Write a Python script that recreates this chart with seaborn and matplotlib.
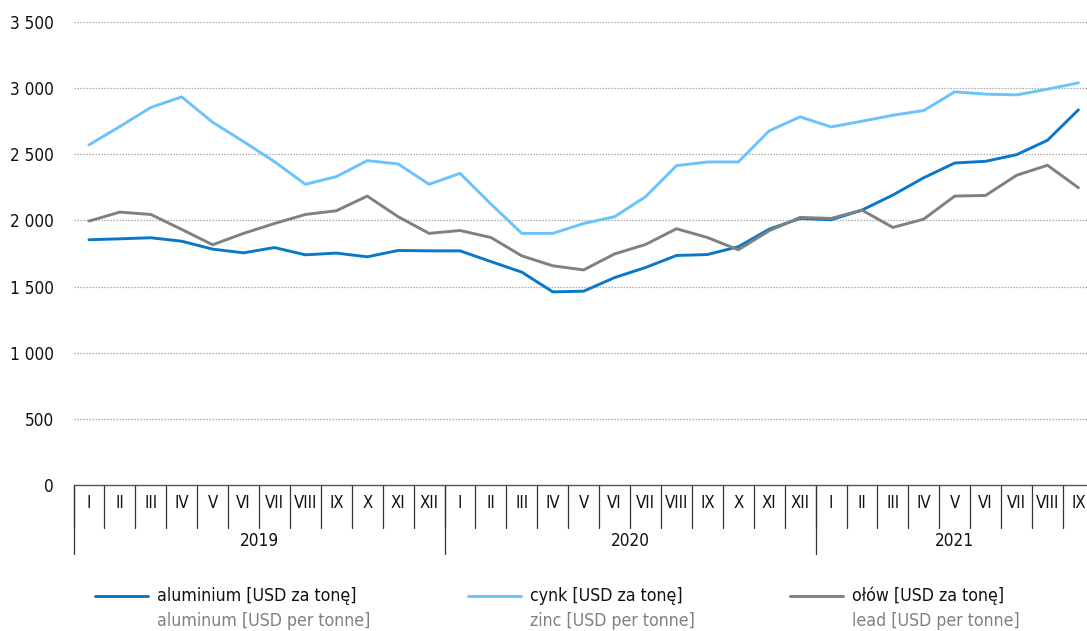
import matplotlib
matplotlib.use("Agg")
import matplotlib.pyplot as plt
from matplotlib.lines import Line2D
import matplotlib.transforms as mtransforms
import numpy as np
import pandas as pd
import seaborn as sns

# Monthly metal prices, 2019 I - 2021 IX
years = ["2019", "2020", "2021"]
months_per_year = [12, 12, 9]
month_names = ["I", "II", "III", "IV", "V", "VI", "VII", "VIII", "IX", "X", "XI", "XII"]

aluminium = [1854, 1861, 1869, 1843, 1783, 1755, 1795, 1740, 1753, 1725, 1773, 1770,
             1770, 1689, 1609, 1460, 1465, 1568, 1644, 1735, 1742, 1801, 1934, 2015,
             2005, 2078, 2192, 2323, 2434, 2447, 2497, 2606, 2836]
zinc = [2571, 2710, 2854, 2934, 2742, 2596, 2444, 2273, 2331, 2452, 2427, 2273,
        2356, 2124, 1902, 1902, 1977, 2028, 2179, 2414, 2442, 2442, 2677, 2783,
        2707, 2750, 2795, 2831, 2972, 2955, 2949, 2992, 3040]
lead = [1995, 2063, 2045, 1932, 1816, 1902, 1977, 2045, 2073, 2184, 2028, 1902,
        1924, 1871, 1732, 1657, 1626, 1747, 1818, 1937, 1871, 1778, 1922, 2023,
        2015, 2078, 1947, 2010, 2184, 2189, 2341, 2417, 2247]

series_pl = ["aluminium [USD za tonę]", "cynk [USD za tonę]", "ołów [USD za tonę]"]
series_en = ["aluminum [USD per tonne]", "zinc [USD per tonne]", "lead [USD per tonne]"]
colors = ["#0a78c8", "#6cc2fb", "#808080"]

month_labels = [m for n in months_per_year for m in month_names[:n]]
n = len(month_labels)

df = pd.DataFrame({
    "idx": np.tile(np.arange(n), 3),
    "value": aluminium + zinc + lead,
    "series": np.repeat(series_pl, n),
})

sns.set_theme(style="white")
plt.rcParams["font.family"] = ["DejaVu Sans"]
plt.rcParams["font.stretch"] = "condensed"
plt.rcParams["font.size"] = 12

W, H = 1087, 631
fig = plt.figure(figsize=(W / 100, H / 100), dpi=100)
cell = 30.92
left_px, top_px, bottom_px = 73.5, 22, 485
right_px = left_px + n * cell
ax = fig.add_axes([left_px / W, 1 - bottom_px / H,
                   (right_px - left_px) / W, (bottom_px - top_px) / H])

sns.lineplot(data=df, x="idx", y="value", hue="series", palette=colors,
             linewidth=2.1, ax=ax, legend=False)

ax.set_xlim(-0.5, n - 0.5)
ax.set_ylim(0, 3500)
ax.set_xlabel("")
ax.set_ylabel("")

# y axis: dotted gridlines, space as thousands separator
yt = np.arange(0, 3501, 500)
ax.set_yticks(yt)
ax.set_yticklabels([f"{v:,}".replace(",", " ") for v in yt], fontsize=12.3, color="#111111")
ax.tick_params(axis="y", length=0, pad=14)
for v in yt[1:]:
    ax.axhline(v, color="#a8a8a8", lw=0.9, ls=(0, (1.2, 1.2)), zorder=0)
for s in ["left", "right", "top", "bottom"]:
    ax.spines[s].set_visible(False)
ax.axhline(0, color="#555555", lw=1.0, clip_on=False, zorder=3)

# x axis: month cells and year groups
ax.set_xticks([])
trans = mtransforms.blended_transform_factory(ax.transData, ax.transAxes)
ax_h = bottom_px - top_px
month_drop = -43 / ax_h
year_drop = -69 / ax_h
for i, lab in enumerate(month_labels):
    ax.text(i, -18 / ax_h, lab, transform=trans, ha="center", va="center",
            fontsize=12, color="#111111")
for k in range(n):
    ax.plot([k - 0.5, k - 0.5], [0, month_drop], transform=trans,
            color="#333333", lw=0.9, clip_on=False)
start = 0
for y, m in zip(years, months_per_year):
    ax.plot([start - 0.5, start - 0.5], [0, year_drop], transform=trans,
            color="#333333", lw=0.9, clip_on=False)
    ax.text(start + m / 2 - 0.5, -56 / ax_h, y, transform=trans, ha="center",
            va="center", fontsize=12.3, color="#111111")
    start += m

# legend with Polish and English captions
leg_x = [95, 468, 790]
for x0, c, pl, en in zip(leg_x, colors, series_pl, series_en):
    fig.add_artist(Line2D([x0 / W, (x0 + 53) / W], [1 - 596 / H] * 2,
                          color=c, lw=2.1, transform=fig.transFigure))
    fig.text((x0 + 62) / W, 1 - 596 / H, pl, ha="left", va="center",
             fontsize=12.7, color="#111111")
    fig.text((x0 + 62) / W, 1 - 621 / H, en, ha="left", va="center",
             fontsize=12.7, color="#808080")

fig.savefig("out.png", dpi=100)
